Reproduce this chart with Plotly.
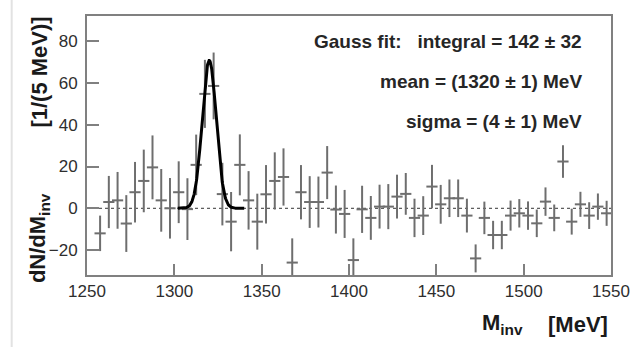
import numpy as np
import plotly.graph_objects as go

# Invariant-mass bins (5 MeV wide), background-subtracted yield and errors
mass = [1257.5, 1262.5, 1267.5, 1272.5, 1277.5, 1282.5, 1287.5, 1292.5, 1297.5, 1302.5,
        1307.5, 1312.5, 1317.5, 1322.5, 1327.5, 1332.5, 1337.5, 1342.5, 1347.5, 1352.5,
        1357.5, 1362.5, 1367.5, 1372.5, 1377.5, 1382.5, 1387.5, 1392.5, 1397.5, 1402.5,
        1407.5, 1412.5, 1417.5, 1422.5, 1427.5, 1432.5, 1437.5, 1442.5, 1447.5, 1452.5,
        1457.5, 1462.5, 1467.5, 1472.5, 1477.5, 1482.5, 1487.5, 1492.5, 1497.5, 1502.5,
        1507.5, 1512.5, 1517.5, 1522.5, 1527.5, 1532.5, 1537.5, 1542.5, 1547.5]
yield_ = [-12.0, 3.0, 3.8, -7.3, 7.7, 13.1, 19.6, 3.8, 0.0, 7.7,
          -0.4, 20.8, 54.8, 58.6, 6.8, -6.4, 20.8, 3.8, -6.4, 6.7,
          13.1, 15.0, -26.0, 7.7, 3.0, 3.0, 17.1, -0.6, -2.7, -24.8,
          -0.5, -4.6, 0.8, 0.8, 5.6, 6.9, -4.6, -3.5, 10.4, 1.9,
          4.8, 4.8, -3.5, -24.0, -4.6, -12.8, -12.8, -3.5, -2.4, -3.5,
          -7.2, 3.2, -4.6, 22.4, -6.4, 1.9, -3.5, 0.8, -2.4]
errors = [8.5, 12.5, 13.6, 13.6, 14.5, 15.0, 15.3, 15.0, 14.5, 14.8,
          14.8, 14.5, 16.3, 16.0, 15.0, 14.2, 14.6, 14.0, 13.4, 14.0,
          13.7, 13.7, 11.6, 13.0, 12.4, 12.2, 12.7, 11.5, 11.5, 10.4,
          11.3, 10.5, 10.5, 10.8, 10.5, 10.0, 9.2, 9.3, 10.4, 9.3,
          9.0, 9.0, 8.1, 6.7, 7.8, 6.8, 6.8, 7.2, 6.8, 6.8,
          6.6, 6.8, 6.4, 7.8, 6.2, 6.0, 6.4, 6.3, 6.0]

# Gaussian fit result
BIN_WIDTH = 5.0
fit_integral, fit_integral_err = 142, 32
fit_mean, fit_mean_err = 1320, 1
fit_sigma, fit_sigma_err = 4, 1
fit_range = (1302, 1340)

x_ticks = [1250, 1300, 1350, 1400, 1450, 1500, 1550]
y_ticks = [-20, 0, 20, 40, 60, 80]

MARK = "#6e6e6e"
FRAME = "#808080"
FONT = "Liberation Sans, Arial, Helvetica, sans-serif"
NB = "\u00a0"

amp = fit_integral * BIN_WIDTH / (np.sqrt(2 * np.pi) * fit_sigma)
xf = np.linspace(fit_range[0], fit_range[1], 300)
yf = amp * np.exp(-0.5 * ((xf - fit_mean) / fit_sigma) ** 2)

fig = go.Figure()
fig.add_trace(go.Scatter(
    x=mass, y=yield_, mode="markers",
    marker=dict(symbol="line-ew", size=8, color=MARK, line=dict(width=2, color=MARK)),
    error_y=dict(type="data", array=errors, visible=True, thickness=2, width=0, color=MARK),
    hoverinfo="x+y",
))
fig.add_trace(go.Scatter(x=xf, y=yf, mode="lines", line=dict(color="black", width=3)))

# dashed zero reference
fig.add_shape(type="line", xref="x", yref="y", x0=1250, x1=1550, y0=0, y1=0,
              line=dict(color="#333333", width=1, dash="3px,3px"), layer="below")
# thin page border at the far left
fig.add_shape(type="line", xref="paper", yref="paper", x0=-0.1437, x1=-0.1437,
              y0=-0.30, y1=1.07, line=dict(color="#e2e2e2", width=2))

txt = dict(size=19, family=FONT, color="#262626")
lines = [
    (f"<b>Gauss fit:{NB*3}integral = {fit_integral} ± {fit_integral_err}</b>", 0.901),
    (f"<b>mean = ({fit_mean} ± {fit_mean_err}) MeV</b>", 0.746),
    (f"<b>sigma = ({fit_sigma} ± {fit_sigma_err}) MeV</b>", 0.592),
]
for t, yy in lines:
    fig.add_annotation(text=t, xref="paper", yref="paper", x=0.948, y=yy,
                       xanchor="right", yanchor="middle", showarrow=False, font=txt)

title_font = dict(size=22, family=FONT, color="#1a1a1a")
fig.add_annotation(text="<b>dN/dM<sub>inv</sub></b>", xref="paper", yref="paper",
                   x=-0.0914, y=-0.0386, xanchor="center", yanchor="bottom",
                   textangle=-90, showarrow=False, font=title_font)
fig.add_annotation(text="<b>[1/(5 MeV)]</b>", xref="paper", yref="paper",
                   x=-0.0914, y=1.004, xanchor="center", yanchor="top",
                   textangle=-90, showarrow=False, font=title_font)
fig.add_annotation(text="<b>M<sub>inv</sub></b>", xref="paper", yref="paper",
                   x=(488.5 - 87) / 536, y=-0.19, xanchor="left", yanchor="middle",
                   showarrow=False, font=title_font)
fig.add_annotation(text="<b>[MeV]</b>", xref="paper", yref="paper",
                   x=0.998, y=-0.19, xanchor="right", yanchor="middle",
                   showarrow=False, font=title_font)

axis_common = dict(
    showgrid=False, zeroline=False, showline=True, mirror=True,
    linecolor=FRAME, linewidth=2, ticks="inside", tickcolor=FRAME, tickwidth=1.5,
    tickfont=dict(size=17, family=FONT, color="#2e2e2e"),
)
fig.update_xaxes(range=[1250, 1550], tickvals=x_ticks, ticklen=11, **axis_common)
fig.update_yaxes(range=[-31.95, 92.1], tickvals=y_ticks, ticklen=12,
                 ticklabelstandoff=4, **axis_common)

fig.update_layout(
    width=642, height=347,
    margin=dict(l=87, r=19, t=16, b=72),
    paper_bgcolor="white", plot_bgcolor="white",
    showlegend=False,
)

fig.write_html("out.html")
